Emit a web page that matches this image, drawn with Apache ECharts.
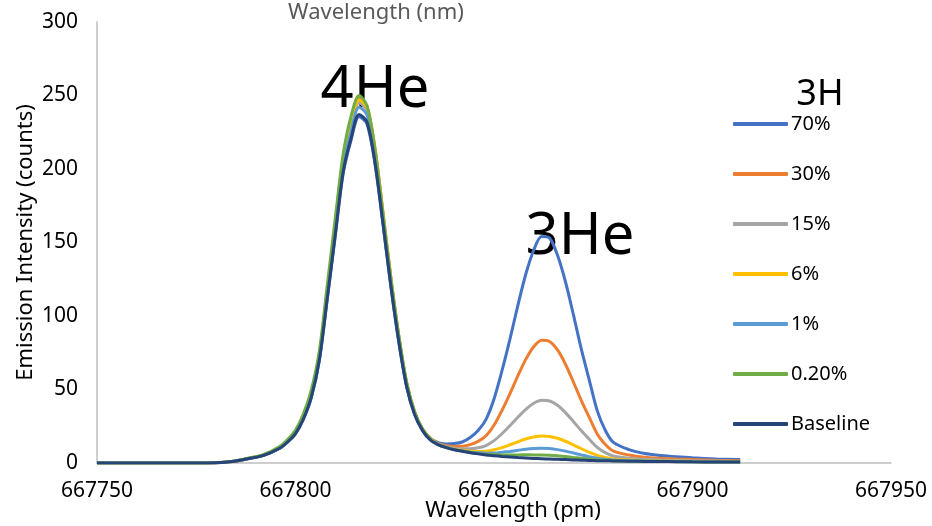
<!DOCTYPE html>
<html>
<head>
<meta charset="utf-8">
<script src="https://cdn.jsdelivr.net/npm/echarts@6/dist/echarts.min.js"></script>
<style>html,body{margin:0;padding:0;background:#fff}#c{width:932px;height:526px}</style>
</head>
<body>
<div id="c"></div>
<script>
// Wavelength (pm)
const wavelengths = [667750,667760,667770,667776,667780,667784,667788,667792,667796,667798,
  667800,667802,667804,667806,667808,667810,667812,667814,667816,667818,
  667820,667822,667824,667826,667828,667830,667832,667834,667836,667838,
  667840,667842,667844,667846,667848,667850,667852,667854,667856,667858,
  667860,667862,667864,667866,667868,667870,667872,667874,667876,667878,
  667880,667884,667888,667892,667896,667900,667906,667912];

const s70 = [0,0,0,0,0.2,1,2.9,5.2,9.9,14.2,
  19.9,29.8,44.7,69.6,111.3,154.1,196.8,219.7,235.6,230.6,
  203.8,163,120.3,82.5,51.8,33.2,22.5,16.3,13.9,12.9,
  13.2,14.3,17.3,22.1,29.7,43.5,62.6,84.1,107.1,128.4,
  144.7,154,153,141.3,123.3,100.9,77.4,56.4,35.6,22.4,
  14.2,9.1,6.4,5.1,4.2,3.5,2.8,2.3];
const s30 = [0,0,0,0,0.2,1,3,5.4,10.5,15,
  20.9,31.4,47.1,73.2,117.2,162.1,207.1,231.2,247.9,242.7,
  214.4,171.5,126.6,86.8,54.5,34.7,23.3,16.7,13.2,11.8,
  11.3,11.4,12.5,14.7,18.5,25.7,35.7,47,59.2,70.5,
  79.1,83.5,82.7,76.9,67.2,55.1,42.4,31,19.8,12.8,
  8.3,5.4,3.9,3.2,2.7,2.3,1.8,1.5];
const s15 = [0,0,0,0,0.2,1,3,5.4,10.3,14.8,
  20.7,31,46.5,72.4,115.8,160.3,204.7,228.5,245.1,239.9,
  212,169.6,125.1,85.8,53.8,34.2,22.9,16.2,12.8,11.1,
  10.1,9.7,9.7,10.4,11.9,15.2,19.9,25.3,31.1,36.5,
  40.6,42.7,42.2,39.3,34.3,28.3,21.9,16.2,10.6,7.1,
  4.8,3.3,2.5,2.1,1.8,1.5,1.3,1.0];
const s6 = [0,0,0,0,0.2,1,3,5.4,10.4,14.9,
  20.8,31.3,46.9,72.9,116.7,161.5,206.3,230.3,247,241.7,
  213.6,170.9,126.1,86.5,54.2,34.4,23,16.3,12.6,10.7,
  9.4,8.7,8,7.8,8,9,10.5,12.4,14.4,16.3,
  17.7,18.4,18.1,16.8,14.8,12.3,9.7,7.3,5.1,3.8,
  2.7,2,1.6,1.4,1.2,1.1,0.9,0.8];
const s1 = [0,0,0,0,0.2,1,3,5.3,10.2,14.6,
  20.4,30.6,45.9,71.5,114.4,158.3,202.2,225.6,242,236.9,
  209.3,167.4,123.5,84.7,53.1,33.7,22.5,15.8,12.5,10.6,
  9.2,8.3,7.4,7,6.7,6.8,7.3,7.9,8.6,9.4,
  9.9,10.1,9.8,9.1,8.1,6.8,5.5,4.3,3.2,2.5,
  2,1.6,1.4,1.2,1.1,0.9,0.8,0.7];
const s02 = [0,0,0,0,0.2,1.1,3.2,5.8,11.2,16,
  22.5,33.5,50,76,121,166,210,236,250,243,
  214,170,126,87,54.9,34.8,23.2,16.4,12.4,10.5,
  9.1,8.1,7.2,6.5,5.9,5.7,5.5,5.5,5.5,5.6,
  5.5,5.5,5.3,4.9,4.4,3.8,3.2,2.6,2.2,1.9,
  1.6,1.3,1.2,1.1,1,0.8,0.7,0.6];
const sBase = [0,0,0,0,0.2,1,2.9,5.2,10,14.3,
  20,30,45,70,112,155,198,221,237,232,
  205,164,121,83,52,33,22,15.5,12.4,10.5,
  9,8,7,6.2,5.5,5,4.5,4.1,3.7,3.4,
  3.1,2.9,2.7,2.5,2.3,2.1,1.9,1.7,1.6,1.5,
  1.4,1.2,1.1,1.0,0.9,0.8,0.7,0.6];

const seriesNames = ['70%','30%','15%','6%','1%','0.20%','Baseline'];
const seriesValues = [s70, s30, s15, s6, s1, s02, sBase];
const seriesColors = ['#4472C4','#ED7D31','#A5A5A5','#FFC000','#5B9BD5','#70AD47','#264478'];

const xTicks = {min: 667750, max: 667950, interval: 50};
const yTicks = {min: 0, max: 300, interval: 50};

const FONT = 'Noto Sans';
const chart = echarts.init(document.getElementById('c'), null, {renderer: 'canvas'});

const series = seriesNames.map((name, i) => ({
  name: name,
  type: 'line',
  smooth: 0.3,
  symbol: 'none',
  showSymbol: false,
  data: wavelengths.map((w, j) => [w, seriesValues[i][j]]),
  lineStyle: {width: 3, color: seriesColors[i]},
  itemStyle: {color: seriesColors[i]},
  emphasis: {disabled: true},
  animation: false
}));

chart.setOption({
  animation: false,
  backgroundColor: '#ffffff',
  textStyle: {fontFamily: FONT},
  grid: {left: 97, right: 41, top: 22, bottom: 63, containLabel: false, outerBoundsMode: 'none'},
  xAxis: {
    type: 'value',
    min: xTicks.min, max: xTicks.max, interval: xTicks.interval,
    name: 'Wavelength (pm)',
    nameLocation: 'middle',
    nameGap: 37,
    nameMoveOverlap: false,
    nameTextStyle: {fontSize: 22, color: '#000', fontFamily: FONT, padding: [0, 0, 0, 38]},
    axisLine: {show: true, lineStyle: {color: '#BFBFBF', width: 1.5}},
    axisTick: {show: false},
    splitLine: {show: false},
    axisLabel: {fontSize: 21, color: '#000', margin: 18, fontFamily: FONT, formatter: v => String(v)}
  },
  yAxis: {
    type: 'value',
    min: yTicks.min, max: yTicks.max, interval: yTicks.interval,
    name: 'Emission Intensity (counts)',
    nameLocation: 'middle',
    nameGap: 60,
    nameMoveOverlap: false,
    nameTextStyle: {fontSize: 22, color: '#000', fontFamily: FONT},
    axisLine: {show: true, lineStyle: {color: '#BFBFBF', width: 1.5}},
    axisTick: {show: false},
    splitLine: {show: false},
    axisLabel: {fontSize: 21, color: '#000', margin: 19, fontFamily: FONT}
  },
  legend: {
    orient: 'vertical',
    left: 728,
    top: 109,
    icon: 'roundRect',
    itemWidth: 55,
    itemHeight: 4,
    itemGap: 30,
    data: seriesNames,
    textStyle: {fontSize: 20, color: '#000', fontFamily: FONT, padding: [0, 0, 0, -2]}
  },
  graphic: [
    {type: 'text', x: 376, y: 13, style: {text: 'Wavelength (nm)', fill: '#595959', font: '22px "Noto Sans"', align: 'center', verticalAlign: 'middle'}},
    {type: 'text', x: 375, y: 90, style: {text: '4He', fill: '#000', font: '58px "Noto Sans"', align: 'center', verticalAlign: 'middle'}},
    {type: 'text', x: 580, y: 237, style: {text: '3He', fill: '#000', font: '58px "Noto Sans"', align: 'center', verticalAlign: 'middle'}},
    {type: 'text', x: 820, y: 95, style: {text: '3H', fill: '#000', font: '36px "Noto Sans"', align: 'center', verticalAlign: 'middle'}}
  ],
  series: series
});
</script>
</body>
</html>
